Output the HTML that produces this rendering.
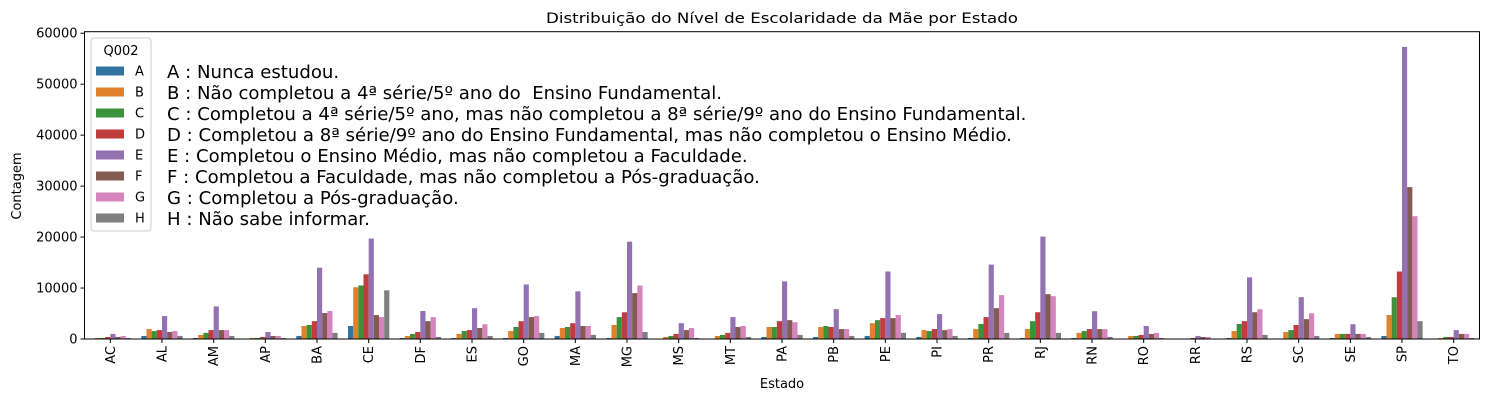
<!DOCTYPE html>
<html><head><meta charset="utf-8">
<style>
body{margin:0;background:#fff;}
svg{display:block;font-family:"DejaVu Sans","Liberation Sans",sans-serif;}
</style></head>
<body>
<svg id="chart" width="1488" height="401" xmlns="http://www.w3.org/2000/svg">
<rect width="1488" height="401" fill="#fff"/>
<g id="bars"></g>
<g id="axes"></g>
<text x="782" y="23" font-size="14.6" text-anchor="middle" textLength="472" lengthAdjust="spacingAndGlyphs">Distribuição do Nível de Escolaridade da Mãe por Estado</text>
<text x="782" y="388" font-size="13" text-anchor="middle">Estado</text>
<text transform="translate(21,186) rotate(-90)" font-size="13" text-anchor="middle">Contagem</text>
<g id="legend"></g>
<g id="notes" font-size="18.1"></g>
</svg>
<script>
const states = ["AC","AL","AM","AP","BA","CE","DF","ES","GO","MA","MG","MS","MT","PA","PB","PE","PI","PR","RJ","RN","RO","RR","RS","SC","SE","SP","TO"];
const levels = ["A","B","C","D","E","F","G","H"];
const sA = [100,600,200,50,600,2550,200,200,200,600,200,50,50,400,400,600,400,200,200,200,50,20,200,100,200,600,50];
const sB = [200,1950,800,200,2550,10150,600,1000,1560,2150,2750,400,600,2350,2350,3100,1750,1950,1950,1200,600,30,1560,1370,1000,4700,200];
const sC = [200,1560,1200,200,2750,10500,1000,1560,2350,2350,4300,600,800,2350,2550,3700,1560,2950,3500,1560,600,30,2950,1750,1000,8200,400];
const sD = [400,1750,1750,400,3500,12700,1370,1750,3500,3100,5250,1000,1200,3500,2350,4100,1950,4300,5250,1950,800,200,3500,2750,1000,13250,400];
const sE = [1000,4500,6400,1370,14000,19700,5500,6050,10700,9350,19100,3100,4300,11300,5850,13250,4900,14600,20100,5450,2550,600,12100,8200,2900,57300,1750];
const sF = [400,1370,1750,600,5100,4700,3500,2150,4300,2550,9000,1750,2350,3700,1950,4100,1750,6050,8800,1950,1000,400,5250,3900,1000,29800,1000];
const sG = [600,1560,1750,600,5500,4300,4300,2900,4500,2550,10500,2150,2550,3300,1950,4700,1950,8600,8400,1950,1200,400,5850,5050,1000,24100,1000];
const sH = [200,600,600,200,1200,9550,400,600,1200,800,1370,200,400,800,600,1200,600,1200,1200,400,200,30,800,600,400,3500,200];
const yTicks = [0,10000,20000,30000,40000,50000,60000];
const notes = ["A : Nunca estudou.","B : Não completou a 4ª série/5º ano do \u00a0Ensino Fundamental.","C : Completou a 4ª série/5º ano, mas não completou a 8ª série/9º ano do Ensino Fundamental.","D : Completou a 8ª série/9º ano do Ensino Fundamental, mas não completou o Ensino Médio.","E : Completou o Ensino Médio, mas não completou a Faculdade.","F : Completou a Faculdade, mas não completou a Pós-graduação.","G : Completou a Pós-graduação.","H : Não sabe informar."];

const series=[sA,sB,sC,sD,sE,sF,sG,sH];
const colors=["#3274a1","#e1812c","#3a923a","#c03d3e","#9372b2","#845b53","#d684bd","#7f7f7f"];
const NS="http://www.w3.org/2000/svg";
const L=84.5,R=1479.5,T=31.7,B=339,YMAX=60300;
const band=(R-L)/states.length;
const x=i=>L+band*(i+0.5);
const y=v=>B-(B-T)*v/YMAX;
function mk(tag,attrs,parent){const e=document.createElementNS(NS,tag);for(const k in attrs)e.setAttribute(k,attrs[k]);parent.appendChild(e);return e;}
const gb=document.getElementById('bars');
const bw=band*0.8/levels.length;
series.forEach((s,j)=>{s.forEach((v,i)=>{
  const r=mk('rect',{x:x(i)-band*0.4+j*bw,y:y(v),width:bw,height:B-y(v),fill:colors[j]},gb);
  
  
});});
const ga=document.getElementById('axes');
const fr=mk('rect',{x:L,y:T,width:R-L,height:B-T,fill:'none',stroke:'#000','stroke-width':1},ga);


yTicks.forEach(v=>{
  mk('line',{x1:L-4,x2:L,y1:y(v),y2:y(v),stroke:'#000'},ga);
  const t=mk('text',{x:L-7,y:y(v)+4.5,'font-size':13,'text-anchor':'end'},ga);
  t.textContent=v;
  
  
});
states.forEach((s,i)=>{
  mk('line',{x1:x(i),x2:x(i),y1:B,y2:B+4,stroke:'#000'},ga);
  const t=mk('text',{transform:`translate(${x(i)+4.5},${B+7}) rotate(-90)`,'font-size':13,'text-anchor':'end'},ga);
  t.textContent=s;
  
  
});
const gl=document.getElementById('legend');
const lb=mk('rect',{x:91,y:38,width:60,height:193,rx:3,fill:'#fff','fill-opacity':0.8,stroke:'#ccc'},gl);


const lt=mk('text',{x:121,y:55,'font-size':13,'text-anchor':'middle'},gl);
lt.textContent='Q002';


levels.forEach((l,j)=>{
  const yy=71+j*21;
  const p=mk('rect',{x:96,y:yy-4.5,width:28,height:9,fill:colors[j]},gl);
  
  
  const t=mk('text',{x:135,y:yy+4.5,'font-size':13},gl);
  t.textContent=l;
  
  
});
const gn=document.getElementById('notes');
notes.forEach((n,j)=>{
  const t=mk('text',{x:167,y:78+j*21},gn);
  t.textContent=n;
  
  
});
</script>
</body></html>
